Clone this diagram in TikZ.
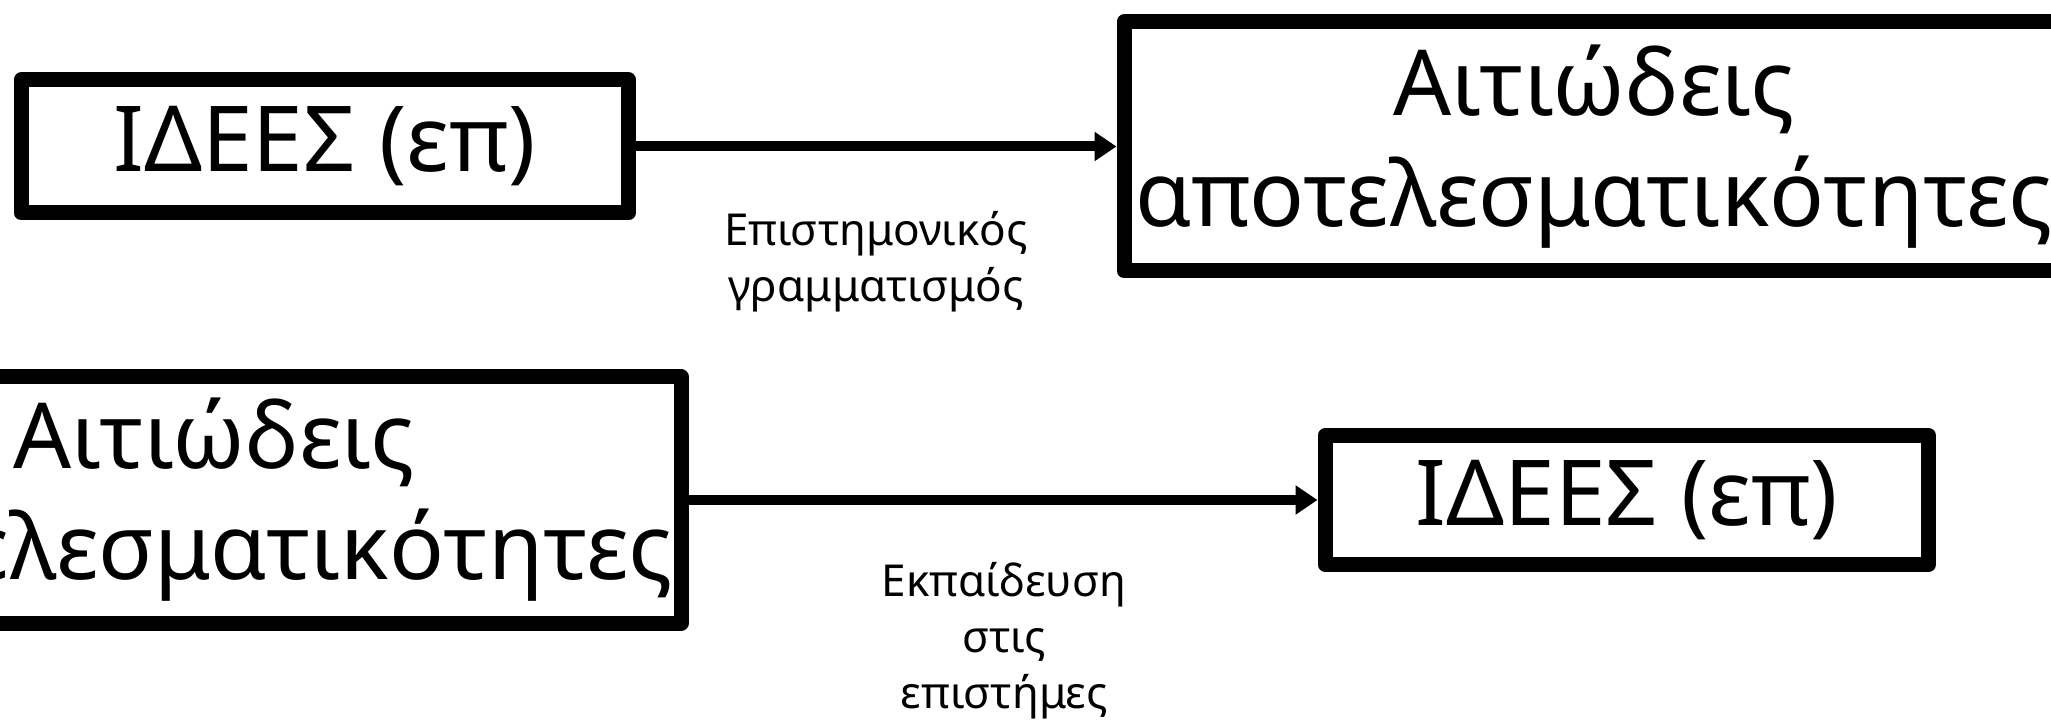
\documentclass[tikz,border=0pt]{standalone}
\usepackage{fontspec}
\setmainfont{Noto Sans}
\usetikzlibrary{arrows.meta,positioning}

\tikzset{
  box/.style={draw, line width=7.5pt, line join=round, align=center, inner sep=0pt,
    font=\fontsize{45.5}{55.5}\selectfont},
  lbl/.style={align=center, inner sep=0pt, font=\fontsize{22}{28}\selectfont},
  link/.style={line width=5pt, -{Triangle[length=11pt,width=14pt]}}
}

\begin{document}
\begin{tikzpicture}[x=0.5pt,y=-0.5pt]
\useasboundingbox (0,0) rectangle (2051,721);

% top row
\node[box, minimum width=303.75pt, minimum height=66.5pt] (ideas1) at (324.75,146.5) {ΙΔΕΕΣ (επ)};
\node[box, minimum width=470pt, minimum height=124.5pt] (effect1) at (1594,146.5) {Αιτιώδεις\\αποτελεσματικότητες};
\draw[link] (ideas1) -- (effect1);
\node[lbl] (literacy) at (876,262) {Επιστημονικός\\γραμματισμός};

% bottom row
\node[box, minimum width=467pt, minimum height=123pt] (effect2) at (214,500) {Αιτιώδεις\\αποτελεσματικότητες};
\node[box, minimum width=301.75pt, minimum height=64.5pt] (ideas2) at (1626.75,500) {ΙΔΕΕΣ (επ)};
\draw[link] (effect2) -- (ideas2);
\node[lbl] (teaching) at (1004,641) {Εκπαίδευση\\στις\\επιστήμες};
\end{tikzpicture}
\end{document}
